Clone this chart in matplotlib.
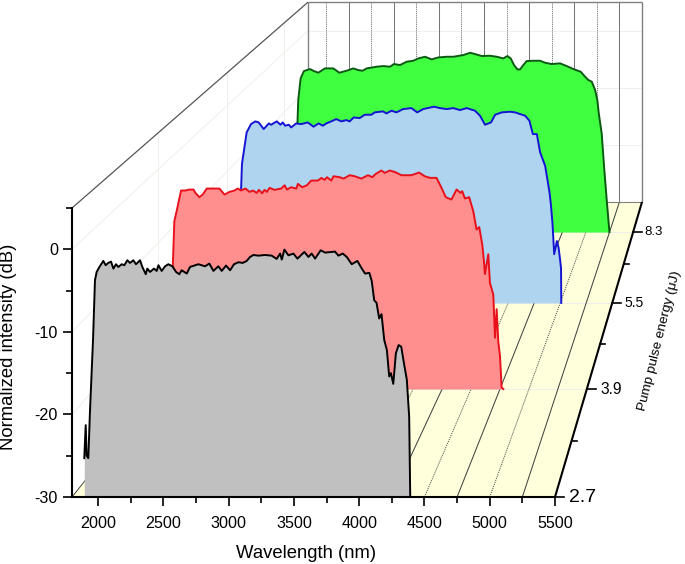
import numpy as np
import matplotlib
matplotlib.use("Agg")
import matplotlib.pyplot as plt
from matplotlib.ticker import MultipleLocator

plt.rcParams['font.family'] = ['Liberation Sans', 'DejaVu Sans']
plt.rcParams['axes.unicode_minus'] = False

# ---------- data ----------
grey_w = [1894,1905,1912,1925,1938,1961,1976,1989,2010,2040,2058,2078,2099,2117,2137,2155,2181,2201,2224,2244,2270,2290,2321,2339,2365,2377,2398,2428,2449,2462,2487,2513,2538,2569,2597,2622,2640,2679,2704,2768,2819,2852,2883,2921,2947,2980,3011,3041,3075,3108,3138,3164,3189,3228,3279,3330,3368,3394,3407,3427,3458,3496,3527,3580,3611,3636,3662,3705,3739,3815,3841,3874,3905,3943,3986,4020,4045,4078,4096,4115,4133,4153,4171,4192,4212,4230,4243,4261,4281,4302,4322,4345,4365,4383,4391]
grey_v = [-25.3,-21.3,-25.0,-25.3,-19.5,-11,-3.75,-2.74,-2.14,-1.41,-1.93,-1.65,-1.49,-2.34,-1.81,-2.14,-1.81,-1.93,-1.33,-1.65,-1.33,-1.81,-1.33,-2.14,-3.02,-2.34,-2.74,-2.34,-2.62,-1.93,-2.62,-2.06,-1.81,-2.06,-2.74,-3.02,-2.54,-2.94,-2.14,-1.81,-2.06,-1.73,-2.62,-2.06,-2.62,-1.97,-2.54,-1.81,-1.57,-1.65,-1.41,-0.93,-0.69,-0.77,-0.69,-0.77,-1.17,-0.52,-1.25,-0.04,-0.73,-0.52,-1.13,-0.32,-0.93,-0.52,-1.13,-0.12,-0.40,-0.28,-0.77,-0.52,-0.93,-1.81,-1.41,-2.34,-2.94,-2.86,-3.83,-6.17,-6.49,-8.38,-7.86,-11.0,-12.2,-15.4,-15.0,-16.3,-12.6,-11.6,-11.8,-14.0,-15.8,-20.3,-29.9]

red_w = [1921,1924,1938,1958,1996,2033,2068,2103,2120,2154,2183,2218,2255,2327,2371,2414,2457,2486,2515,2552,2587,2616,2650,2668,2696,2717,2737,2760,2803,2861,2890,2910,2947,2991,3005,3042,3083,3120,3178,3207,3236,3256,3293,3313,3365,3400,3452,3495,3553,3610,3648,3677,3726,3755,3798,3841,3899,3948,3985,4051,4100,4144,4202,4245,4282,4331,4375,4409,4424,4447,4484,4519,4548,4571,4597,4611,4620,4649,4663,4692,4707,4721,4735,4750,4764,4779]
red_v = [-30,-13.5,-7.08,-5.7,-2.9,-2.9,-2.77,-2.77,-3.22,-3.81,-3.45,-2.63,-2.63,-2.63,-3.45,-3.09,-2.9,-2.63,-2.9,-2.63,-3.09,-2.9,-3.22,-2.81,-3.27,-2.81,-3.09,-2.54,-2.81,-2.63,-2.18,-2.77,-2.45,-2.63,-1.99,-2.45,-2.18,-1.54,-1.54,-1.18,-1.45,-1.08,-1.54,-0.95,-1.08,-1.27,-0.81,-0.95,-1.27,-0.81,-1.08,-0.63,-0.17,-0.49,-0.17,-0.36,-0.81,-0.81,-0.81,-0.45,-0.95,-1.17,-1.17,-2.54,-3.81,-4.13,-2.76,-3.22,-2.99,-3.99,-3.81,-5.72,-8.22,-7.9,-10.3,-12.5,-14.3,-11.6,-15.5,-17.1,-23.0,-19.1,-23.5,-25.5,-29.8,-30]

blue_w = [1930,1932,1941,1986,2028,2070,2102,2150,2199,2221,2276,2311,2333,2356,2391,2414,2462,2510,2574,2629,2677,2719,2751,2799,2847,2896,2944,2976,3015,3072,3121,3185,3217,3297,3329,3378,3426,3490,3570,3625,3683,3786,3844,3908,3972,4036,4101,4181,4229,4277,4335,4374,4438,4518,4566,4614,4663,4704,4737,4775,4807,4855,4871,4897,4910,4926,4942,4968,4984,5000,5008,5010]
blue_v = [-30,-13.0,-8.9,-4.1,-2.83,-2.42,-2.58,-3.59,-2.73,-2.93,-2.42,-2.93,-2.58,-3.08,-2.93,-3.34,-2.73,-2.83,-2.58,-3.23,-2.73,-3.08,-2.73,-2.42,-2.07,-2.42,-2.22,-2.42,-1.82,-1.92,-1.41,-1.41,-1.05,-0.9,-1.21,-0.8,-1.05,-0.55,-0.4,-1.05,-0.55,-0.19,-0.4,-0.55,-0.4,-0.7,-0.4,-0.8,-1.56,-2.93,-2.57,-1.41,-1.05,-0.95,-1.05,-1.31,-1.56,-2.32,-4.35,-4.35,-7.14,-9.17,-10.7,-13.2,-15,-18,-22.6,-20.6,-21.6,-23.6,-24.8,-30]

green_w = [1938,1942,1952,1977,2012,2076,2118,2164,2235,2323,2387,2465,2535,2588,2634,2677,2783,2853,2924,2966,3030,3101,3171,3224,3295,3366,3436,3525,3595,3701,3772,3825,3896,3984,4055,4125,4168,4203,4238,4274,4302,4337,4372,4443,4514,4567,4637,4726,4796,4867,4945,4991,5026,5062,5097,5121,5135,5167,5192,5220,5249]
green_v = [-30,-12.3,-7.88,-4.25,-3.03,-2.69,-3.03,-3.3,-2.58,-2.58,-3.3,-2.97,-2.58,-2.86,-2.97,-2.58,-2.3,-2.19,-2.3,-1.85,-2.02,-1.46,-1.3,-0.91,-0.63,-1.07,-0.74,-0.63,-0.63,-0.35,0.04,-0.18,-0.51,-0.46,-0.63,-0.91,-0.51,-0.91,-2.02,-2.75,-2.75,-2.02,-1.35,-1.3,-1.3,-1.63,-1.85,-1.74,-2.19,-2.69,-3.14,-3.97,-4.53,-4.81,-6.2,-7.88,-10,-13.5,-19,-24.6,-30]

energy_labels = ["2.7", "3.9", "5.5", "8.3"]
x_major = [2000, 2500, 3000, 3500, 4000, 4500, 5000, 5500]

# ---------- layout ----------
W, H = 685, 564
XMIN, XMAX, YMIN, YMAX = 1800, 5500, -30, 5
L, R, T, B = 72, 555, 208, 497
BACK_L, BACK_R, BACK_B = 308, 642, 202
depths = [0.0, 0.366, 0.658, 0.898]
minor_depths = [0.19, 0.52, 0.79]
label_sizes = [14, 11.2, 10, 9.5]
label_gaps = [14, 14, 12, 11]
pxx = (R - L) / (XMAX - XMIN)
pxy = (B - T) / (YMAX - YMIN)

fig = plt.figure(figsize=(W / 100, H / 100), dpi=100)
ax = fig.add_axes([L / W, 1 - B / H, (R - L) / W, (B - T) / H])
ax.set_xlim(XMIN, XMAX)
ax.set_ylim(YMIN, YMAX)
ax.patch.set_alpha(0)


def project(w, v, t):
    """Perspective: a point on the plane at depth t into front-plane data units."""
    w, v = np.asarray(w, float), np.asarray(v, float)
    s = 1 + t * ((BACK_R - BACK_L) / (R - L) - 1)
    return (XMIN + t * (BACK_L - L) / pxx + s * (w - XMIN),
            YMIN + t * (B - BACK_B) / pxy + s * (v - YMIN))


def seg(w0, v0, t0, w1, v1, t1, **kw):
    a, b = project(w0, v0, t0), project(w1, v1, t1)
    kw.setdefault('zorder', 1.0)
    ax.plot([a[0], b[0]], [a[1], b[1]], clip_on=False, solid_capstyle='butt', **kw)


# floor
corners = [project(XMIN, YMIN, 0), project(XMAX, YMIN, 0), project(XMAX, YMIN, 1), project(XMIN, YMIN, 1)]
ax.fill([c[0] for c in corners], [c[1] for c in corners], color='#FFFFDC', lw=0, clip_on=False, zorder=0.5)

# pale gridlines on the walls and series planes
PALE = '#EFEFEB'
for v in (0, -10, -20):
    seg(XMIN, v, 0, XMIN, v, 1, color=PALE, lw=0.7, zorder=0.6)
    seg(XMIN, v, 1, XMAX, v, 1, color=PALE, lw=0.7, zorder=0.6)
for t in depths[1:]:
    seg(XMIN, YMIN, t, XMAX, YMIN, t, color=PALE, lw=0.7, zorder=0.7)
    seg(XMIN, YMIN, t, XMIN, YMAX, t, color=PALE, lw=0.7, zorder=0.6)

# floor and back-wall lines every 250 nm: dotted on the 500s, solid between
for w in np.arange(2000, 5500, 250):
    if w % 500 == 0:
        style = dict(color='#555555', lw=0.7, ls=(0, (1.2, 1.0)))
    else:
        style = dict(color='#444444', lw=0.75, ls='-')
    seg(w, YMIN, 0, w, YMIN, 1, zorder=0.8, **style)
    wall = dict(style)
    wall['color'] = '#777777'
    seg(w, YMIN, 1, w, YMAX, 1, **wall)

# frame of the box
FRAME = '#808080'
seg(XMIN, YMIN, 1, XMIN, YMAX, 1, color=FRAME, lw=1.0)
seg(XMAX, YMIN, 1, XMAX, YMAX, 1, color=FRAME, lw=1.0)
seg(XMIN, YMAX, 1, XMAX, YMAX, 1, color=FRAME, lw=1.0)
seg(XMIN, YMIN, 1, XMAX, YMIN, 1, color=FRAME, lw=0.8)
seg(XMIN, YMAX, 0, XMIN, YMAX, 1, color='#555555', lw=0.9)
seg(XMIN, YMIN, 0, XMIN, YMIN, 1, color='#444444', lw=0.7, zorder=0.8)

# spectra, back to front
series = [
    (green_w, green_v, depths[3], '#40FF40', '#0B5A12'),
    (blue_w, blue_v, depths[2], '#AED4F0', '#1414D2'),
    (red_w, red_v, depths[1], '#FF8F8F', '#E8101A'),
    (grey_w, grey_v, depths[0], '#C0C0C0', '#000000'),
]
for i, (w, v, t, fc, lc) in enumerate(series):
    x, y = project(w, v, t)
    _, base = project(w, np.full(len(w), YMIN), t)
    ax.fill_between(x, y, base, color=fc, lw=0, clip_on=False, zorder=1.2 + i * 0.2)
    ax.plot(x, y, color=lc, lw=1.4, clip_on=False, zorder=1.3 + i * 0.2, solid_joinstyle='round')

# front axes
for s in ('top', 'right'):
    ax.spines[s].set_visible(False)
for s in ('left', 'bottom'):
    ax.spines[s].set_linewidth(1.5)
ax.xaxis.set_minor_locator(MultipleLocator(250))
ax.yaxis.set_minor_locator(MultipleLocator(5))
ax.set_xticks(x_major)
ax.set_yticks([-30, -20, -10, 0])
ax.tick_params(axis='both', which='major', length=6.5, width=1.2, labelsize=11.6)
ax.tick_params(axis='x', which='major', pad=7)
ax.tick_params(axis='y', which='major', pad=3.5)
ax.tick_params(axis='both', which='minor', length=4, width=1.2)
ax.set_xlabel('Wavelength (nm)', fontsize=13.3)
ax.set_ylabel('Normalized intensity (dB)', fontsize=13.3)
ax.xaxis.set_label_coords(0.4855, -0.166)
ax.yaxis.set_label_coords(-0.114, 0.519)

# depth axis on the right edge of the floor
seg(XMAX, YMIN, 0, XMAX, YMIN, 1, color='black', lw=1.5, zorder=3)
tick_major = 9 / pxx
tick_minor = 5 / pxx
for t, lab, fs, gap in zip(depths, energy_labels, label_sizes, label_gaps):
    x, y = project(XMAX, YMIN, t)
    ax.plot([x, x + tick_major], [y, y], color='black', lw=1.2, clip_on=False, zorder=3)
    ax.text(x + gap / pxx, y, lab, fontsize=fs, ha='left', va='center', clip_on=False, zorder=3)
for t in minor_depths:
    x, y = project(XMAX, YMIN, t)
    ax.plot([x, x + tick_minor], [y, y], color='black', lw=1.2, clip_on=False, zorder=3)

fig.text(660 / W, 1 - 341 / H, 'Pump pulse energy (μJ)', fontsize=9.7, rotation=76,
         ha='center', va='center', rotation_mode='anchor')

fig.savefig('out.png', dpi=100, facecolor='white')
